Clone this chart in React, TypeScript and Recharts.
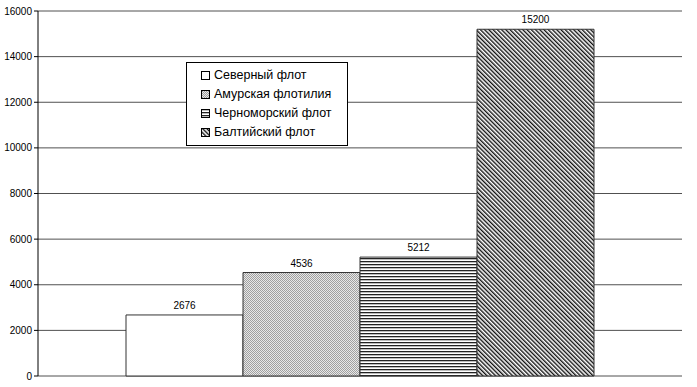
import React from 'react';
import { BarChart, Bar, XAxis, YAxis, CartesianGrid, LabelList, Legend } from 'recharts';

const categories = [''];
const seriesNames = ['Северный флот', 'Амурская флотилия', 'Черноморский флот', 'Балтийский флот'];
const seriesValues = [2676, 4536, 5212, 15200];
const yTicks = [0, 2000, 4000, 6000, 8000, 10000, 12000, 14000, 16000];

const fills = ['#ffffff', 'url(#patAmur)', 'url(#patBlack)', 'url(#patBalt)'];
const keys = ['s0', 's1', 's2', 's3'];

const data = categories.map((c) => {
  const row: any = { name: c };
  keys.forEach((k, i) => (row[k] = seriesValues[i]));
  return row;
});

const font = 'Arial, "Liberation Sans", sans-serif';

const LegendBox = () => (
  <div
    style={{
      border: '1px solid #000',
      background: '#fff',
      padding: '3px 8px 3px 14px',
      fontFamily: font,
      fontSize: 12.5,
      color: '#000',
      lineHeight: '19px',
      width: 138,
      boxSizing: 'content-box',
    }}
  >
    {seriesNames.map((n, i) => (
      <div key={n} style={{ display: 'flex', alignItems: 'center', whiteSpace: 'nowrap' }}>
        <svg width={9} height={9} style={{ marginRight: 4 }}>
          <rect x={0.5} y={0.5} width={8} height={8} fill={fills[i]} stroke="#000" />
        </svg>
        <span>{n}</span>
      </div>
    ))}
  </div>
);

export default function App() {
  return (
    <div style={{ position: 'absolute', left: 0, top: 0, width: 697, height: 387, background: '#fff' }}>
      <BarChart
        width={697}
        height={387}
        data={data}
        margin={{ top: 11, right: 15, left: 0, bottom: 11 }}
        barCategoryGap={88}
        barGap={0}
      >
        <defs>
          <pattern id="patAmur" width={2} height={2} patternUnits="userSpaceOnUse">
            <rect width={2} height={2} fill="#e8e8e8" />
            <rect width={1} height={1} fill="#a0a0a0" />
            <rect x={1} y={1} width={1} height={1} fill="#a0a0a0" />
          </pattern>
          <pattern id="patBlack" width={3} height={3} patternUnits="userSpaceOnUse">
            <rect width={3} height={3} fill="#ffffff" />
            <rect width={3} height={1.3} fill="#222" />
          </pattern>
          <pattern id="patBalt" width={3} height={3} patternUnits="userSpaceOnUse" patternTransform="rotate(-45)">
            <rect width={3} height={3} fill="#ffffff" />
            <rect width={1.4} height={3} fill="#111" />
          </pattern>
        </defs>
        <CartesianGrid vertical={false} stroke="#505050" strokeWidth={1} />
        <XAxis dataKey="name" tick={false} tickLine={false} axisLine={{ stroke: '#a0a0a0' }} height={0} />
        <YAxis
          domain={[0, 16000]}
          ticks={yTicks}
          interval={0}
          width={38}
          tick={{ fill: '#000', fontSize: 10, fontFamily: font }}
          tickLine={{ stroke: '#000' }}
          tickSize={4}
          tickMargin={2}
          axisLine={{ stroke: '#000' }}
        />
        <YAxis
          yAxisId="r"
          orientation="right"
          width={0}
          tick={false}
          tickLine={false}
          axisLine={{ stroke: '#808080' }}
          domain={[0, 16000]}
        />
        <Legend
          layout="vertical"
          align="center"
          verticalAlign="middle"
          wrapperStyle={{ left: 186, top: 62, width: 'auto', height: 'auto' }}
          content={() => <LegendBox />}
        />
        {keys.map((k, i) => (
          <Bar key={k} dataKey={k} name={seriesNames[i]} fill={fills[i]} stroke="#333" strokeWidth={1} isAnimationActive={false}>
            <LabelList dataKey={k} position="top" offset={6} style={{ fontSize: 10, fontFamily: font, fill: '#000' }} />
          </Bar>
        ))}
      </BarChart>
    </div>
  );
}
